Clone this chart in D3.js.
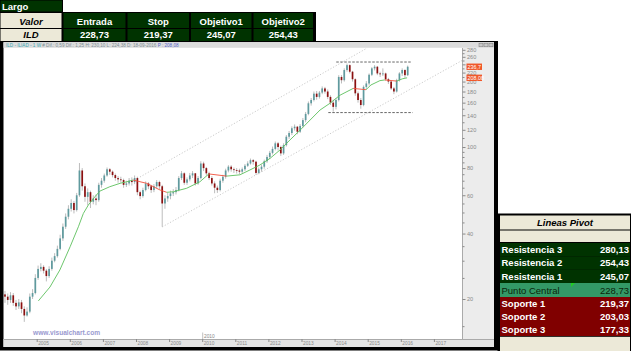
<!DOCTYPE html>
<html>
<head>
<meta charset="utf-8">
<script src="https://cdn.jsdelivr.net/npm/d3@7"></script>
<style>
  body { margin: 0; background: #fff; }
  svg { display: block; font-family: "Liberation Sans", Arial, sans-serif; }
</style>
</head>
<body>
<svg id="chart" width="631" height="351"></svg>
<script>
// monthly bars, first one is Jan 2004 (open of the next bar = close of the previous)
const startYear = 2004;
const firstOpen = 21.0;
const closes = [
  20.5, 19.8, 20.8, 19.2, 18.5, 19.3, 18.0, 16.8, 17.5, 20.5, 21.3, 25.0,
  27.5, 28.1, 27.0, 25.5, 27.5, 30.0, 31.5, 34.0, 38.0, 43.0, 47.8, 52.0,
  55.3, 51.3, 60.0, 78.0, 66.0, 59.0, 62.0, 56.0, 58.0, 57.0, 67.0, 70.0,
  74.0, 79.0, 77.0, 74.3, 72.0, 71.0, 70.5, 67.0, 68.0, 70.0, 69.0, 72.0,
  62.0, 59.5, 63.4, 68.0, 66.0, 63.4, 66.0, 69.0, 66.0, 55.0, 58.0, 59.5,
  61.2, 62.0, 63.4, 72.0, 75.7, 68.5, 71.0, 74.0, 75.7, 68.0, 72.0, 84.0,
  80.0, 75.7, 72.0, 68.0, 65.0, 63.4, 70.0, 73.0, 78.0, 81.2, 79.0, 78.4,
  78.0, 77.0, 79.0, 82.0, 84.0, 87.0, 85.6, 76.0, 79.0, 81.2, 86.0, 90.0,
  94.0, 98.0, 104, 100, 93.5, 102, 111.5, 116, 122, 124, 117.6, 125,
  133, 142, 158.9, 164.5, 176, 170, 178, 186, 180, 170, 160, 153,
  164.5, 210, 203, 226, 238, 222, 205, 176.6, 164.5, 156, 189, 196,
  215, 230, 234, 218, 216, 218, 205, 200, 186, 180, 203, 218,
  226, 214, 234
];
const highs = [
  21.8, 21.2, 21.5, 21.3, 19.8, 20.0, 19.8, 18.5, 18.3, 21.2, 22.2, 26.0,
  28.5, 29.2, 28.6, 27.5, 28.3, 31.0, 32.5, 35.2, 39.5, 44.5, 49.5, 54.0,
  57.5, 56.5, 61.5, 84.4, 80.0, 68.0, 64.5, 63.0, 60.0, 60.5, 68.5, 72.0,
  75.5, 80.5, 80.0, 78.0, 75.5, 73.5, 73.0, 71.5, 70.0, 72.0, 72.5, 74.0,
  73.0, 63.0, 65.0, 69.5, 69.0, 67.0, 67.5, 70.5, 70.0, 67.0, 60.0, 61.5,
  63.0, 64.0, 65.5, 73.5, 77.5, 76.5, 72.5, 76.0, 77.5, 76.0, 73.5, 86.0,
  85.6, 81.0, 77.0, 73.5, 69.5, 66.5, 71.5, 74.5, 79.5, 82.5, 82.5, 80.5,
  80.0, 79.5, 80.5, 83.5, 86.0, 88.5, 88.0, 86.5, 80.5, 83.0, 87.5, 92.0,
  96.0, 100.5, 106, 105.5, 101.5, 104, 113.5, 118.5, 124.5, 127, 125, 127.5,
  136, 145, 162, 168, 180, 181, 181, 190, 189, 184, 173, 165,
  168, 214, 214, 230, 242, 240, 224, 207, 180, 168, 192, 201,
  218, 233, 238, 236, 222, 230, 220, 208, 202, 189, 206, 221,
  230, 228, 237
];
const lows = [
  19.2, 18.8, 19.2, 18.6, 17.8, 18.0, 17.2, 15.7, 16.6, 17.2, 20.0, 21.0,
  24.5, 26.8, 26.2, 24.1, 25.0, 27.0, 29.5, 31.0, 33.5, 37.0, 42.0, 46.5,
  50.5, 49.5, 50.5, 59.0, 63.0, 56.0, 54.0, 52.4, 54.5, 54.0, 56.0, 65.0,
  68.5, 73.0, 74.5, 72.5, 70.0, 68.5, 68.5, 65.0, 65.5, 66.5, 66.5, 67.5,
  60.0, 57.5, 58.5, 62.5, 64.0, 61.5, 62.0, 64.5, 64.0, 43.0, 52.0, 56.0,
  57.5, 59.5, 60.5, 62.5, 70.5, 67.0, 67.0, 69.5, 72.0, 66.5, 67.0, 71.0,
  77.5, 74.0, 70.5, 66.5, 61.3, 61.5, 62.5, 68.5, 71.5, 76.5, 77.0, 76.0,
  75.5, 75.0, 75.5, 77.5, 81.0, 83.0, 83.0, 74.5, 75.0, 77.0, 79.5, 84.5,
  88.0, 92.5, 96.5, 96.5, 91.0, 92.0, 100.5, 109, 113.5, 119, 114.5, 116,
  123, 130, 140, 155, 162, 165, 167, 175, 176, 166, 156, 145.4,
  149, 162, 196, 200, 222, 218, 200, 172, 160, 150, 154, 185,
  192, 212, 225, 214, 210, 212, 202, 195, 183, 175, 178, 200,
  212, 208, 212
];

// moving average
const maDates = [2005.05, 2005.4, 2005.7, 2006.01, 2006.26, 2006.41, 2006.56, 2006.76, 2006.91,
  2007.21, 2007.52, 2007.72, 2007.91, 2008.32, 2008.73, 2008.93, 2009.13, 2009.53, 2009.93,
  2010.2, 2010.74, 2011.14, 2011.44, 2011.74, 2012.05, 2012.35, 2012.65, 2012.96, 2013.26,
  2013.56, 2013.86, 2014.16, 2014.56, 2014.95, 2015.1, 2015.37, 2015.52, 2015.88, 2016.05, 2016.19];
const maValues = [19.6, 22.7, 27.2, 34.8, 43.0, 49.5, 54.1, 59.1, 62.7,
  65.7, 68.1, 69.2, 70.5, 68.1, 63.4, 61.9, 62.3, 64.6, 69.2,
  75.2, 73.5, 74.5, 78.4, 82.6, 88.7, 96.9, 107.7, 119.7, 133.1,
  148, 158.9, 173, 186, 183.5, 193, 202, 203.5, 201, 206, 208.1];

// channel and level lines [date, value]
const upperChannel = [[2008.12, 72.8], [2014.98, 285]];
const lowerChannel = [[2008.79, 42.9], [2017.85, 250]];
const resistLine = [[2014.05, 246], [2016.3, 246]];
const supportLine = [[2013.81, 144], [2016.36, 144]];

const yTicks = [20, 40, 60, 80, 100, 120, 140, 160, 180, 200, 220, 240, 260, 280];
const yHidden = [240]; // sits under the price tag
const yMinor = [15, 25, 30, 35, 45, 50, 55, 65, 70, 75, 85, 90, 95, 110, 130, 150, 170, 190, 210, 230, 250, 270];
const years = [2005, 2006, 2007, 2008, 2009, 2010, 2011, 2012, 2013, 2014, 2015, 2016, 2017];

const tradeHeads = ["Entrada", "Stop", "Objetivo1", "Objetivo2"];
const tradeVals = ["228,73", "219,37", "245,07", "254,43"];
const pivotNames = ["Resistencia 3", "Resistencia 2", "Resistencia 1", "Punto Central", "Soporte 1", "Soporte 2", "Soporte 3"];
const pivotVals = ["280,13", "254,43", "245,07", "228,73", "219,37", "203,03", "177,33"];
const priceTag = "236,7";
const maTag = "208,08";

const GREEN = "#003300", BEIGE = "#ece9d8", DRED = "#800000", MID = "#339966";

const svg = d3.select("#chart");

// ---------- top table ----------
svg.append("rect").attr("x", 0).attr("y", 0).attr("width", 63).attr("height", 12.5).attr("fill", "#000");
svg.append("rect").attr("x", 0.5).attr("y", 0.5).attr("width", 61.5).attr("height", 11).attr("fill", GREEN);
svg.append("text").attr("x", 2).attr("y", 9.5).attr("fill", "#fff").attr("font-size", 9.5)
  .attr("font-weight", "bold").text("Largo");

const colX = [0, 62.5, 126.5, 190, 252.5, 314];
svg.append("rect").attr("x", 0).attr("y", 12).attr("width", 316).attr("height", 30).attr("fill", "#000");
const rowsY = [[13, 15], [29, 12]];
rowsY.forEach(([ry, rh], r) => {
  svg.append("rect").attr("x", 0.5).attr("y", ry).attr("width", 61).attr("height", rh).attr("fill", BEIGE);
  svg.append("text").attr("x", 31).attr("y", ry + rh - 3.5).attr("text-anchor", "middle")
    .attr("font-size", 9.5).attr("font-weight", "bold").attr("font-style", "italic")
    .text(r === 0 ? "Valor" : "ILD");
  const labels = r === 0 ? tradeHeads : tradeVals;
  labels.forEach((t, i) => {
    const x0 = colX[i + 1] + 1, x1 = colX[i + 2] - 1;
    svg.append("rect").attr("x", x0).attr("y", ry).attr("width", x1 - x0).attr("height", rh).attr("fill", GREEN);
    svg.append("text").attr("x", (x0 + x1) / 2).attr("y", ry + rh - 3.5).attr("text-anchor", "middle")
      .attr("fill", "#fff").attr("font-size", 9.5).attr("font-weight", "bold").text(t);
  });
});

// ---------- chart panel ----------
const plotL = 3.5, plotR = 462.5, plotT = 48, plotB = 339;
svg.append("rect").attr("x", 0).attr("y", 41).attr("width", 498).attr("height", 309.5).attr("fill", "#000");
svg.append("rect").attr("x", plotL).attr("y", 42.2).attr("width", 490.5).attr("height", 304.8).attr("fill", "#fff");
svg.append("rect").attr("x", plotL).attr("y", 42.2).attr("width", 490.5).attr("height", 5.6).attr("fill", "#dcdcdc");
svg.append("rect").attr("x", plotR).attr("y", plotT).attr("width", 494 - plotR).attr("height", plotB - plotT).attr("fill", "#ececec");
svg.append("rect").attr("x", plotL).attr("y", plotB).attr("width", 490.5).attr("height", 8).attr("fill", "#e4e4e4");
svg.append("line").attr("x1", plotL).attr("x2", 494).attr("y1", plotB + 0.5).attr("y2", plotB + 0.5).attr("stroke", "#aaa");
svg.append("line").attr("x1", plotR).attr("x2", plotR).attr("y1", plotT).attr("y2", plotB).attr("stroke", "#aaa");

// status line
const status = svg.append("text").attr("x", 6).attr("y", 46.8).attr("font-size", 4.6);
status.append("tspan").attr("fill", "#3aa9b5").text("ILD - ILIAD - 1 W  ");
status.append("tspan").attr("fill", "#7f8f96").text("# Dif.:   0,59  Dif.:   1,25  H:  230,10  L:  224,38  D:  18-09-2016 ");
status.append("tspan").attr("fill", "#5566cc").text("P :  208,08");
[479, 484, 489].forEach(x => {
  svg.append("rect").attr("x", x).attr("y", 43.2).attr("width", 4).attr("height", 3.6)
    .attr("fill", "#c8c8c8").attr("stroke", "#777").attr("stroke-width", 0.5);
});

const xScale = d3.scaleLinear().domain([2005, 2017]).range([36.7, 433.9]);
const yScale = d3.scaleLog().domain([20, 280]).range([299, 49.8]);

svg.append("clipPath").attr("id", "plotClip").append("rect")
  .attr("x", plotL).attr("y", plotT).attr("width", plotR - plotL).attr("height", plotB - plotT);
const plot = svg.append("g").attr("clip-path", "url(#plotClip)");

const line = d3.line().x(d => xScale(d[0])).y(d => yScale(d[1]));

plot.selectAll("path.channel").data([upperChannel, lowerChannel]).join("path")
  .attr("class", "channel").attr("d", line).attr("fill", "none")
  .attr("stroke", "#bdbdbd").attr("stroke-width", 0.8).attr("stroke-dasharray", "1.2,1.8");

plot.selectAll("path.level").data([resistLine, supportLine]).join("path")
  .attr("class", "level").attr("d", line).attr("fill", "none")
  .attr("stroke", "#555").attr("stroke-width", 0.9).attr("stroke-dasharray", "2.5,1.5");

// candles
const bars = closes.map((c, i) => ({
  t: startYear + (i + 0.5) / 12,
  o: i ? closes[i - 1] : firstOpen,
  c: c, h: highs[i], l: lows[i]
}));
const bw = 1.7;
plot.selectAll("line.wick").data(bars).join("line").attr("class", "wick")
  .attr("x1", d => xScale(d.t)).attr("x2", d => xScale(d.t))
  .attr("y1", d => yScale(d.h)).attr("y2", d => yScale(d.l))
  .attr("stroke", "#b4b4b4").attr("stroke-width", 0.9);
plot.selectAll("rect.body").data(bars).join("rect").attr("class", "body")
  .attr("x", d => xScale(d.t) - bw / 2).attr("width", bw)
  .attr("y", d => yScale(Math.max(d.o, d.c)))
  .attr("height", d => Math.max(0.8, Math.abs(yScale(d.o) - yScale(d.c))))
  .attr("fill", d => d.c >= d.o ? "#5f9a9e" : "#8b1010");

// moving average, red while falling
const maPts = maDates.map((d, i) => [d, maValues[i]]);
plot.selectAll("path.ma").data(d3.pairs(maPts)).join("path").attr("class", "ma")
  .attr("d", d => line(d)).attr("fill", "none").attr("stroke-width", 0.9)
  .attr("stroke", ([a, b]) => b[1] < a[1] ? "#f0503c" : "#5cbf5c");

// watermark
svg.append("text").attr("x", 33).attr("y", 335).attr("font-size", 6.6).attr("font-weight", "bold")
  .attr("fill", "#9a9ad0").text("www.visualchart.com");
svg.append("line").attr("x1", 202.7).attr("x2", 202.7).attr("y1", 332.5).attr("y2", plotB)
  .attr("stroke", "#999").attr("stroke-width", 0.6);
svg.append("text").attr("x", 204).attr("y", 337.5).attr("font-size", 4.8).attr("fill", "#888").text("2010");

// right axis
const yAxis = d3.axisRight(yScale).tickValues(yTicks).tickSize(3)
  .tickFormat(d => yHidden.includes(d) ? "" : d3.format("d")(d));
svg.append("g").attr("transform", `translate(${plotR},0)`).call(yAxis)
  .attr("font-size", 5.6).attr("font-family", "Liberation Sans, Arial, sans-serif")
  .call(g => g.select(".domain").remove())
  .call(g => g.selectAll("line").attr("stroke", "#8a8a8a"))
  .call(g => g.selectAll("text").attr("x", 4.5).attr("fill", "#8a8a8a"));
const yMinorAxis = d3.axisRight(yScale).tickValues(yMinor).tickSize(2).tickFormat("");
svg.append("g").attr("transform", `translate(${plotR},0)`).call(yMinorAxis)
  .call(g => g.select(".domain").remove())
  .call(g => g.selectAll("line").attr("stroke", "#8a8a8a"));

// bottom axis
const xAxis = d3.axisBottom(xScale).tickValues(years).tickSize(3).tickFormat(d => d);
svg.append("g").attr("transform", `translate(0,${plotB})`).call(xAxis)
  .attr("font-size", 4.8).attr("font-family", "Liberation Sans, Arial, sans-serif")
  .call(g => g.select(".domain").remove())
  .call(g => g.selectAll("line").attr("stroke", "#8a8a8a"))
  .call(g => g.selectAll("text").attr("x", 1).attr("y", 2.2).attr("dy", "0.71em")
    .attr("text-anchor", "start").attr("fill", "#8a8a8a"));

// price tags
const last = bars[bars.length - 1];
[[last.c, priceTag], [maValues[maValues.length - 1], maTag]].forEach(([v, t]) => {
  const y = yScale(v);
  svg.append("rect").attr("x", 466.5).attr("y", y - 3.2).attr("width", 15.5).attr("height", 6.4)
    .attr("fill", "#f0582a");
  svg.append("text").attr("x", 467.5).attr("y", y + 1.9).attr("font-size", 5.4).attr("fill", "#fff").text(t);
});

// ---------- pivot table ----------
svg.append("rect").attr("x", 497.5).attr("y", 213.5).attr("width", 133.5).attr("height", 137.5).attr("fill", "#000");
svg.append("rect").attr("x", 500).attr("y", 215.5).attr("width", 130).attr("height", 14).attr("fill", BEIGE);
svg.append("text").attr("x", 565).attr("y", 226).attr("text-anchor", "middle").attr("font-size", 9.5)
  .attr("font-weight", "bold").attr("font-style", "italic").text("Lineas Pivot");
svg.append("rect").attr("x", 500).attr("y", 230.5).attr("width", 130).attr("height", 11.5).attr("fill", BEIGE);
svg.append("rect").attr("x", 500).attr("y", 336.8).attr("width", 130).attr("height", 15).attr("fill", BEIGE);

const rowTop = [243, 256.3, 269.6, 283, 297, 310, 323];
const rowH = [13.3, 13.4, 13.4, 14, 13, 13, 13];
pivotNames.forEach((name, i) => {
  const fill = i < 3 ? GREEN : i === 3 ? MID : DRED;
  const txt = i === 3 ? "#0b250b" : "#fff";
  svg.append("rect").attr("x", 500).attr("y", rowTop[i]).attr("width", 130).attr("height", rowH[i]).attr("fill", fill);
  svg.append("text").attr("x", 501.5).attr("y", rowTop[i] + rowH[i] - 3.3).attr("font-size", 9.5)
    .attr("font-weight", i === 3 ? "normal" : "bold").attr("fill", txt).text(name);
  svg.append("text").attr("x", 629).attr("y", rowTop[i] + rowH[i] - 3.3).attr("text-anchor", "end")
    .attr("font-size", 9.5).attr("font-weight", i === 3 ? "normal" : "bold").attr("fill", txt).text(pivotVals[i]);
});
svg.append("path").attr("d", "M571,283 L575,283 L571,287 Z").attr("fill", "#22cc22");
</script>
</body>
</html>
